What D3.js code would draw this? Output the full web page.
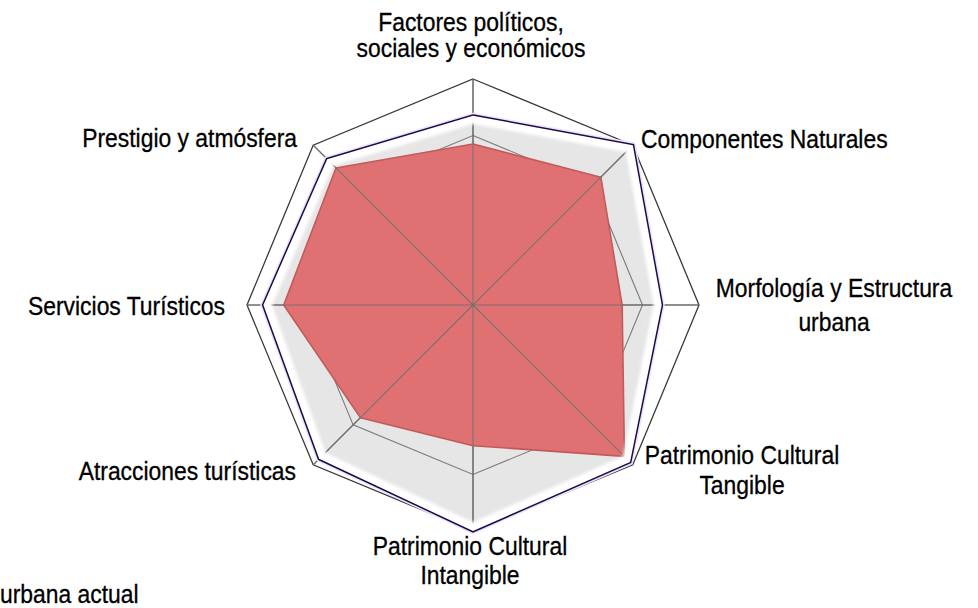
<!DOCTYPE html>
<html>
<head>
<meta charset="utf-8">
<script src="https://cdn.jsdelivr.net/npm/d3@7"></script>
<style>
html,body{margin:0;padding:0;background:#fff;}
svg{display:block;}
text{font-family:"Liberation Sans",Arial,sans-serif;fill:#000;stroke:#000;stroke-width:0.3px;}
</style>
</head>
<body>
<svg id="chart" width="978" height="608"></svg>
<script>
// Categories (clockwise from top)
const categories = [
  ["Factores políticos,", "sociales y económicos"],
  ["Componentes Naturales"],
  ["Morfología y Estructura", "urbana"],
  ["Patrimonio Cultural", "Tangible"],
  ["Patrimonio Cultural", "Intangible"],
  ["Atracciones turísticas"],
  ["Servicios Turísticos"],
  ["Prestigio y atmósfera"]
];
// Series values (scale 0-4)
const idealValues = [3.35, 4.0, 3.34, 3.93, 4.0, 3.85, 3.71, 3.65];
const actualValues = [2.85, 3.2, 2.64, 3.79, 2.49, 2.82, 3.35, 3.43];
const ringTicks = [1, 2, 3, 4];
const legendText = "urbana actual";

const svg = d3.select("#chart");
const cx = 473, cy = 305, R = 226;
const r = d3.scaleLinear().domain([0, 4]).range([0, R]);
const n = categories.length;
const angle = d3.scaleLinear().domain([0, n]).range([0, 2 * Math.PI]);

const g = svg.append("g").attr("transform", `translate(${cx},${cy})`);
const radial = d3.lineRadial()
  .angle((d, i) => angle(i))
  .radius(d => r(d))
  .curve(d3.curveLinearClosed);

const defs = svg.append("defs");
defs.append("clipPath").attr("id", "idealClip")
  .append("path").attr("d", radial(idealValues)).attr("transform", `translate(${cx},${cy})`);
defs.append("filter").attr("id", "soft").attr("x", "-10%").attr("y", "-10%").attr("width", "120%").attr("height", "120%")
  .append("feGaussianBlur").attr("stdDeviation", 1.5);

// Ideal series: grey fill with soft white inner edge
g.append("path").attr("d", radial(idealValues)).attr("fill", "#e6e6e6");
svg.append("g").attr("clip-path", "url(#idealClip)")
  .append("path").attr("transform", `translate(${cx},${cy})`)
  .attr("d", radial(idealValues))
  .attr("fill", "none").attr("stroke", "#fff").attr("stroke-width", 16)
  .attr("stroke-linejoin", "miter").attr("filter", "url(#soft)");

// Grid rings
ringTicks.forEach(t => {
  g.append("path")
    .attr("d", radial(d3.range(n).map(() => t)))
    .attr("fill", "none")
    .attr("stroke", t === 4 ? "#3a3a3a" : "#7a7a7a")
    .attr("stroke-width", t === 4 ? 1.3 : 1.1);
});

// Spokes
const spokes = (cls, col, op) => g.selectAll("line." + cls).data(d3.range(n)).join("line")
  .attr("class", cls)
  .attr("x1", 0).attr("y1", 0)
  .attr("x2", i => r(4) * Math.sin(angle(i)))
  .attr("y2", i => -r(4) * Math.cos(angle(i)))
  .attr("stroke", col).attr("stroke-width", 1.1).attr("opacity", op);
spokes("s1", "#555", 1);

// Actual series (red)
g.append("path").attr("d", radial(actualValues))
  .attr("fill", "#e07172")
  .attr("stroke", "#c25a5b").attr("stroke-width", 1.6).attr("stroke-linejoin", "round");

spokes("s2", "#6f6f6f", 0.85);

// Ideal series outline
g.append("path").attr("d", radial(idealValues))
  .attr("fill", "none").attr("stroke", "#ece4f6").attr("stroke-width", 6);
g.append("path").attr("d", radial(idealValues))
  .attr("fill", "none").attr("stroke", "#1c0a48").attr("stroke-width", 3)
  .attr("stroke-linejoin", "miter");

// Labels
const labelPos = [
  {x: 471, y: [31, 57], a: "middle"},
  {x: 641, y: [148], a: "start"},
  {x: 834, y: [297, 331], a: "middle"},
  {x: 742, y: [464, 494], a: "middle"},
  {x: 470, y: [555, 584], a: "middle"},
  {x: 296, y: [480], a: "end"},
  {x: 225, y: [315], a: "end"},
  {x: 297, y: [147], a: "end"}
];
categories.forEach((lines, i) => {
  const p = labelPos[i];
  lines.forEach((t, j) => {
    svg.append("text")
      .attr("transform", `translate(${p.x},${p.y[j]}) scale(0.915,1)`)
      .attr("text-anchor", p.a)
      .attr("font-size", 25)
      .text(t);
  });
});

svg.append("text")
  .attr("transform", `translate(0,603) scale(0.915,1)`)
  .attr("font-size", 25)
  .text(legendText);
</script>
</body>
</html>
